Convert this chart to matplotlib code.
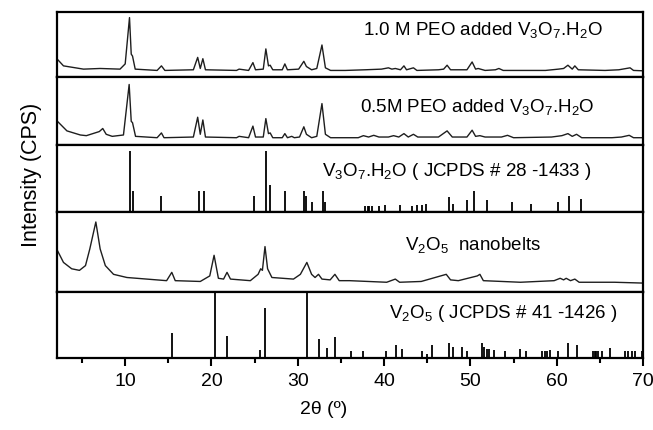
import numpy as np
import matplotlib
matplotlib.use("Agg")
import matplotlib.pyplot as plt
from matplotlib.ticker import MultipleLocator

plt.rcParams["font.family"] = ["Liberation Sans", "DejaVu Sans"]
plt.rcParams["mathtext.fontset"] = "custom"
plt.rcParams["mathtext.rm"] = "Liberation Sans"
plt.rcParams["mathtext.it"] = "Liberation Sans"
plt.rcParams["mathtext.default"] = "regular"

# 1.0 M PEO added V3O7.H2O (2theta, relative height in panel)
peo10_x = [2.15, 2.85, 5.17, 7.1, 9.4, 10.0, 10.5, 10.7, 10.85, 11.16, 13.7, 14.2, 14.6,
           17.9, 18.4, 18.7, 19.0, 19.3, 22.9, 23.2, 24.3, 24.8, 25.1, 26.0, 26.3, 26.6,
           26.8, 27.1, 28.2, 28.5, 28.8, 30.1, 30.7, 31.0, 31.6, 32.2, 32.8, 33.2, 33.8,
           35.5, 37.8, 39.7, 40.5, 40.9, 41.3, 41.9, 42.3, 42.6, 43.4, 43.8, 46.3, 46.9,
           47.3, 47.7, 49.6, 50.2, 50.6, 50.9, 51.7, 52.9, 53.3, 53.8, 58.7, 60.2, 60.8,
           61.3, 61.8, 62.1, 62.5, 65.6, 67.2, 68.5, 68.9, 69.9]
peo10_y = [0.27, 0.17, 0.12, 0.13, 0.12, 0.20, 0.91, 0.35, 0.32, 0.12, 0.10, 0.17, 0.10,
           0.11, 0.30, 0.13, 0.28, 0.11, 0.10, 0.12, 0.10, 0.22, 0.11, 0.12, 0.43, 0.17,
           0.18, 0.11, 0.11, 0.20, 0.11, 0.12, 0.24, 0.16, 0.11, 0.13, 0.49, 0.14, 0.10,
           0.10, 0.11, 0.12, 0.14, 0.12, 0.13, 0.11, 0.17, 0.11, 0.14, 0.10, 0.11, 0.12,
           0.18, 0.11, 0.11, 0.23, 0.12, 0.13, 0.10, 0.11, 0.13, 0.10, 0.10, 0.12, 0.13,
           0.18, 0.12, 0.17, 0.11, 0.10, 0.11, 0.14, 0.10, 0.095]

# 0.5M PEO added V3O7.H2O
peo05_x = [2.15, 3.25, 4.8, 5.5, 6.5, 7.0, 7.4, 7.8, 8.5, 9.8, 10.46, 10.7, 10.85, 11.2,
           13.7, 14.2, 14.5, 17.9, 18.4, 18.7, 19.0, 19.3, 22.9, 23.2, 24.3, 24.8, 25.1,
           26.0, 26.3, 26.6, 26.8, 27.1, 28.2, 28.5, 28.8, 29.3, 29.6, 30.2, 30.7, 31.0,
           31.6, 32.2, 32.8, 33.2, 33.8, 35.5, 37.0, 37.6, 38.2, 38.8, 39.4, 40.5, 41.1,
           41.7, 42.3, 42.8, 43.4, 43.9, 46.3, 47.3, 47.9, 49.6, 50.2, 50.6, 51.1, 51.7,
           53.6, 54.3, 55.0, 59.4, 60.6, 61.3, 61.8, 62.3, 62.9, 66.4, 67.5, 68.4, 68.9, 69.9]
peo05_y = [0.35, 0.21, 0.15, 0.14, 0.18, 0.20, 0.245, 0.16, 0.13, 0.15, 0.89, 0.35, 0.33,
           0.13, 0.11, 0.18, 0.11, 0.12, 0.41, 0.16, 0.37, 0.12, 0.11, 0.13, 0.11, 0.28,
           0.12, 0.12, 0.39, 0.17, 0.18, 0.11, 0.11, 0.17, 0.11, 0.13, 0.11, 0.12, 0.27,
           0.16, 0.11, 0.13, 0.61, 0.16, 0.11, 0.11, 0.11, 0.14, 0.12, 0.145, 0.12, 0.12,
           0.14, 0.12, 0.17, 0.12, 0.16, 0.12, 0.12, 0.21, 0.12, 0.12, 0.22, 0.13, 0.14,
           0.12, 0.12, 0.145, 0.11, 0.12, 0.14, 0.17, 0.13, 0.16, 0.11, 0.11, 0.12, 0.145,
           0.11, 0.11]

# V3O7.H2O JCPDS 28-1433 reference lines
v3o7_pos = [10.5, 10.9, 14.2, 18.5, 19.1, 24.9, 26.3, 26.8, 28.5, 30.7, 30.9, 31.7, 32.9,
            33.1, 37.8, 38.1, 38.3, 38.6, 39.4, 40.1, 41.9, 43.2, 43.8, 44.4, 44.9, 47.5,
            48.0, 49.6, 50.4, 51.9, 54.8, 57.0, 60.2, 61.4, 62.8]
v3o7_int = [0.915, 0.32, 0.24, 0.32, 0.32, 0.24, 0.915, 0.41, 0.32, 0.32, 0.24, 0.16, 0.32,
            0.16, 0.09, 0.09, 0.09, 0.09, 0.09, 0.11, 0.11, 0.09, 0.11, 0.11, 0.13, 0.23,
            0.12, 0.19, 0.32, 0.19, 0.16, 0.13, 0.16, 0.25, 0.20]

# V2O5 nanobelts
belts_x = [2.15, 2.85, 3.8, 4.7, 5.4, 5.9, 6.6, 7.1, 7.7, 8.65, 10.2, 12.5, 14.8, 15.4,
           15.8, 18.7, 19.8, 20.3, 20.8, 21.4, 21.8, 22.2, 24.5, 25.4, 25.7, 25.9, 26.2,
           26.5, 27.0, 29.5, 30.3, 31.05, 31.6, 32.0, 32.4, 32.8, 33.75, 34.3, 34.8, 36.0,
           40.3, 41.3, 41.8, 44.3, 47.2, 47.7, 48.6, 50.8, 51.1, 51.5, 55.8, 59.7, 60.4,
           60.8, 61.1, 61.6, 62.1, 62.6, 66.7, 69.9]
belts_y = [0.52, 0.37, 0.29, 0.27, 0.33, 0.54, 0.88, 0.54, 0.33, 0.22, 0.18, 0.16, 0.14,
           0.245, 0.14, 0.13, 0.20, 0.46, 0.17, 0.16, 0.245, 0.16, 0.14, 0.22, 0.29, 0.27,
           0.57, 0.29, 0.18, 0.16, 0.22, 0.37, 0.22, 0.18, 0.22, 0.16, 0.15, 0.22, 0.14,
           0.14, 0.12, 0.16, 0.12, 0.13, 0.22, 0.15, 0.14, 0.20, 0.22, 0.14, 0.12, 0.14,
           0.17, 0.15, 0.17, 0.14, 0.16, 0.12, 0.12, 0.11]

# V2O5 JCPDS 41-1426 reference lines
v2o5_pos = [15.4, 20.4, 21.8, 25.6, 26.2, 31.1, 32.5, 33.4, 34.3, 36.2, 37.5, 40.2, 41.4,
            42.1, 44.4, 45.0, 45.6, 47.5, 48.0, 49.0, 49.6, 51.3, 51.6, 51.9, 52.2, 52.7,
            54.0, 55.8, 56.4, 58.3, 58.6, 58.9, 59.2, 60.1, 61.3, 62.3, 64.2, 64.4, 64.6,
            64.8, 65.3, 66.2, 67.9, 68.3, 68.7, 69.1, 69.9]
v2o5_int = [0.38, 1.0, 0.33, 0.12, 0.75, 1.0, 0.29, 0.15, 0.31, 0.11, 0.11, 0.10, 0.20,
            0.14, 0.11, 0.06, 0.19, 0.22, 0.16, 0.16, 0.11, 0.23, 0.16, 0.14, 0.14, 0.12,
            0.11, 0.14, 0.10, 0.10, 0.10, 0.10, 0.12, 0.11, 0.23, 0.19, 0.11, 0.11, 0.11,
            0.11, 0.10, 0.15, 0.10, 0.10, 0.10, 0.10, 0.11]

labels = [
    "1.0 M PEO added V$_3$O$_7$.H$_2$O",
    "0.5M PEO added V$_3$O$_7$.H$_2$O",
    "V$_3$O$_7$.H$_2$O ( JCPDS # 28 -1433 )",
    "V$_2$O$_5$  nanobelts",
    "V$_2$O$_5$ ( JCPDS # 41 -1426 )",
]
label_pos = [(483, 0.73), (477, 0.57), (457, 0.63), (473, 0.60), (503, 0.69)]

fig, axes = plt.subplots(
    5, 1, sharex=True, figsize=(6.53, 4.31), dpi=100,
    gridspec_kw=dict(height_ratios=[65, 68, 67, 79, 66], hspace=0)
)
plt.subplots_adjust(left=0.0873, right=0.9847, top=0.9705, bottom=0.167)

line_col = "#1e1e1e"
axes[0].plot(peo10_x, peo10_y, color=line_col, lw=1.0)
axes[1].plot(peo05_x, peo05_y, color=line_col, lw=1.0)
axes[2].vlines(v3o7_pos, 0, v3o7_int, color="black", lw=1.3)
axes[3].plot(belts_x, belts_y, color=line_col, lw=1.0)
axes[4].vlines(v2o5_pos, 0, v2o5_int, color="black", lw=1.3)

x0, x1 = 2.1, 70
for ax, lab, (px, fy) in zip(axes, labels, label_pos):
    ax.set_ylim(0, 1)
    ax.set_xlim(x0, x1)
    ax.set_yticks([])
    for s in ax.spines.values():
        s.set_linewidth(1.6)
    # label x given in figure pixels
    fx = (px - 57) / (643 - 57)
    ax.text(fx, fy, lab, transform=ax.transAxes, ha="center", va="center",
            fontsize=13.5)

for ax in axes[:-1]:
    ax.tick_params(axis="x", which="both", bottom=False, labelbottom=False)

axb = axes[-1]
axb.xaxis.set_major_locator(MultipleLocator(10))
axb.xaxis.set_minor_locator(MultipleLocator(5))
axb.tick_params(axis="x", which="major", direction="out", length=6, width=1.5,
                labelsize=14, pad=4)
axb.tick_params(axis="x", which="minor", direction="out", length=3.5, width=1.5)

fig.text(0.049, 0.594, "Intensity (CPS)", rotation=90, ha="center", va="center",
         fontsize=15.5)
fig.text(0.496, 0.049, "2θ (º)", ha="center", va="center", fontsize=14)

fig.savefig("out.png", dpi=100)
